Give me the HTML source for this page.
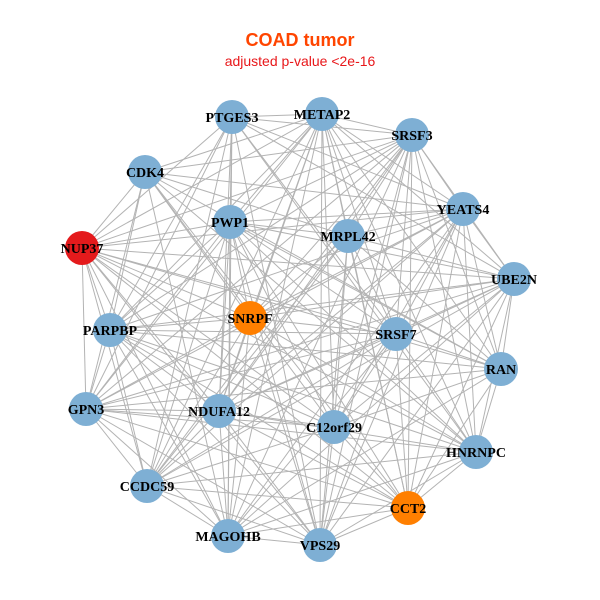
<!DOCTYPE html>
<html><head><meta charset="utf-8">
<style>
html,body{margin:0;padding:0;background:#fff;}
svg{display:block;}
.t{font-family:"Liberation Serif",serif;font-weight:bold;font-size:14px;fill:#000;text-anchor:middle;}
</style></head>
<body>
<svg id="s" width="600" height="600" xmlns="http://www.w3.org/2000/svg">
<rect width="600" height="600" fill="#fff"/>
<text x="300" y="46" text-anchor="middle" font-family="Liberation Sans,sans-serif" font-weight="bold" font-size="18" fill="#FF4500">COAD tumor</text>
<text x="300" y="66" text-anchor="middle" font-family="Liberation Sans,sans-serif" font-size="14" fill="#E8171A">adjusted p-value &lt;2e-16</text>
<g id="e" stroke="#b3b3b3" stroke-width="1"></g>
<g id="n"></g>
</svg>
<script>
var N=[["PTGES3",232,117,"#7eafd4"],["METAP2",322,114,"#7eafd4"],["SRSF3",412,135,"#7eafd4"],["CDK4",145,172,"#7eafd4"],["YEATS4",463,209,"#7eafd4"],["PWP1",230,222,"#7eafd4"],["MRPL42",348,236,"#7eafd4"],["NUP37",82,248,"#e41a1c"],["UBE2N",514,279,"#7eafd4"],["SNRPF",250,318,"#ff7f00"],["PARPBP",110,330,"#7eafd4"],["SRSF7",396,334,"#7eafd4"],["RAN",501,369,"#7eafd4"],["GPN3",86,409,"#7eafd4"],["NDUFA12",219,411,"#7eafd4"],["C12orf29",334,427,"#7eafd4"],["HNRNPC",476,452,"#7eafd4"],["CCDC59",147,486,"#7eafd4"],["CCT2",408,508,"#ff7f00"],["MAGOHB",228,536,"#7eafd4"],["VPS29",320,545,"#7eafd4"]];
var ns="http://www.w3.org/2000/svg",e=document.getElementById("e"),g=document.getElementById("n");
for(var i=0;i<N.length;i++)for(var j=i+1;j<N.length;j++){if((i*7+j*3)%9==0)continue;var l=document.createElementNS(ns,"line");l.setAttribute("x1",N[i][1]);l.setAttribute("y1",N[i][2]);l.setAttribute("x2",N[j][1]);l.setAttribute("y2",N[j][2]);e.appendChild(l);}
N.forEach(function(d){var c=document.createElementNS(ns,"circle");c.setAttribute("cx",d[1]);c.setAttribute("cy",d[2]);c.setAttribute("r",17);c.setAttribute("fill",d[3]);g.appendChild(c);});
N.forEach(function(d){var t=document.createElementNS(ns,"text");t.setAttribute("x",d[1]);t.setAttribute("y",d[2]+5);t.setAttribute("class","t");t.textContent=d[0];g.appendChild(t);});
</script>
</body></html>
